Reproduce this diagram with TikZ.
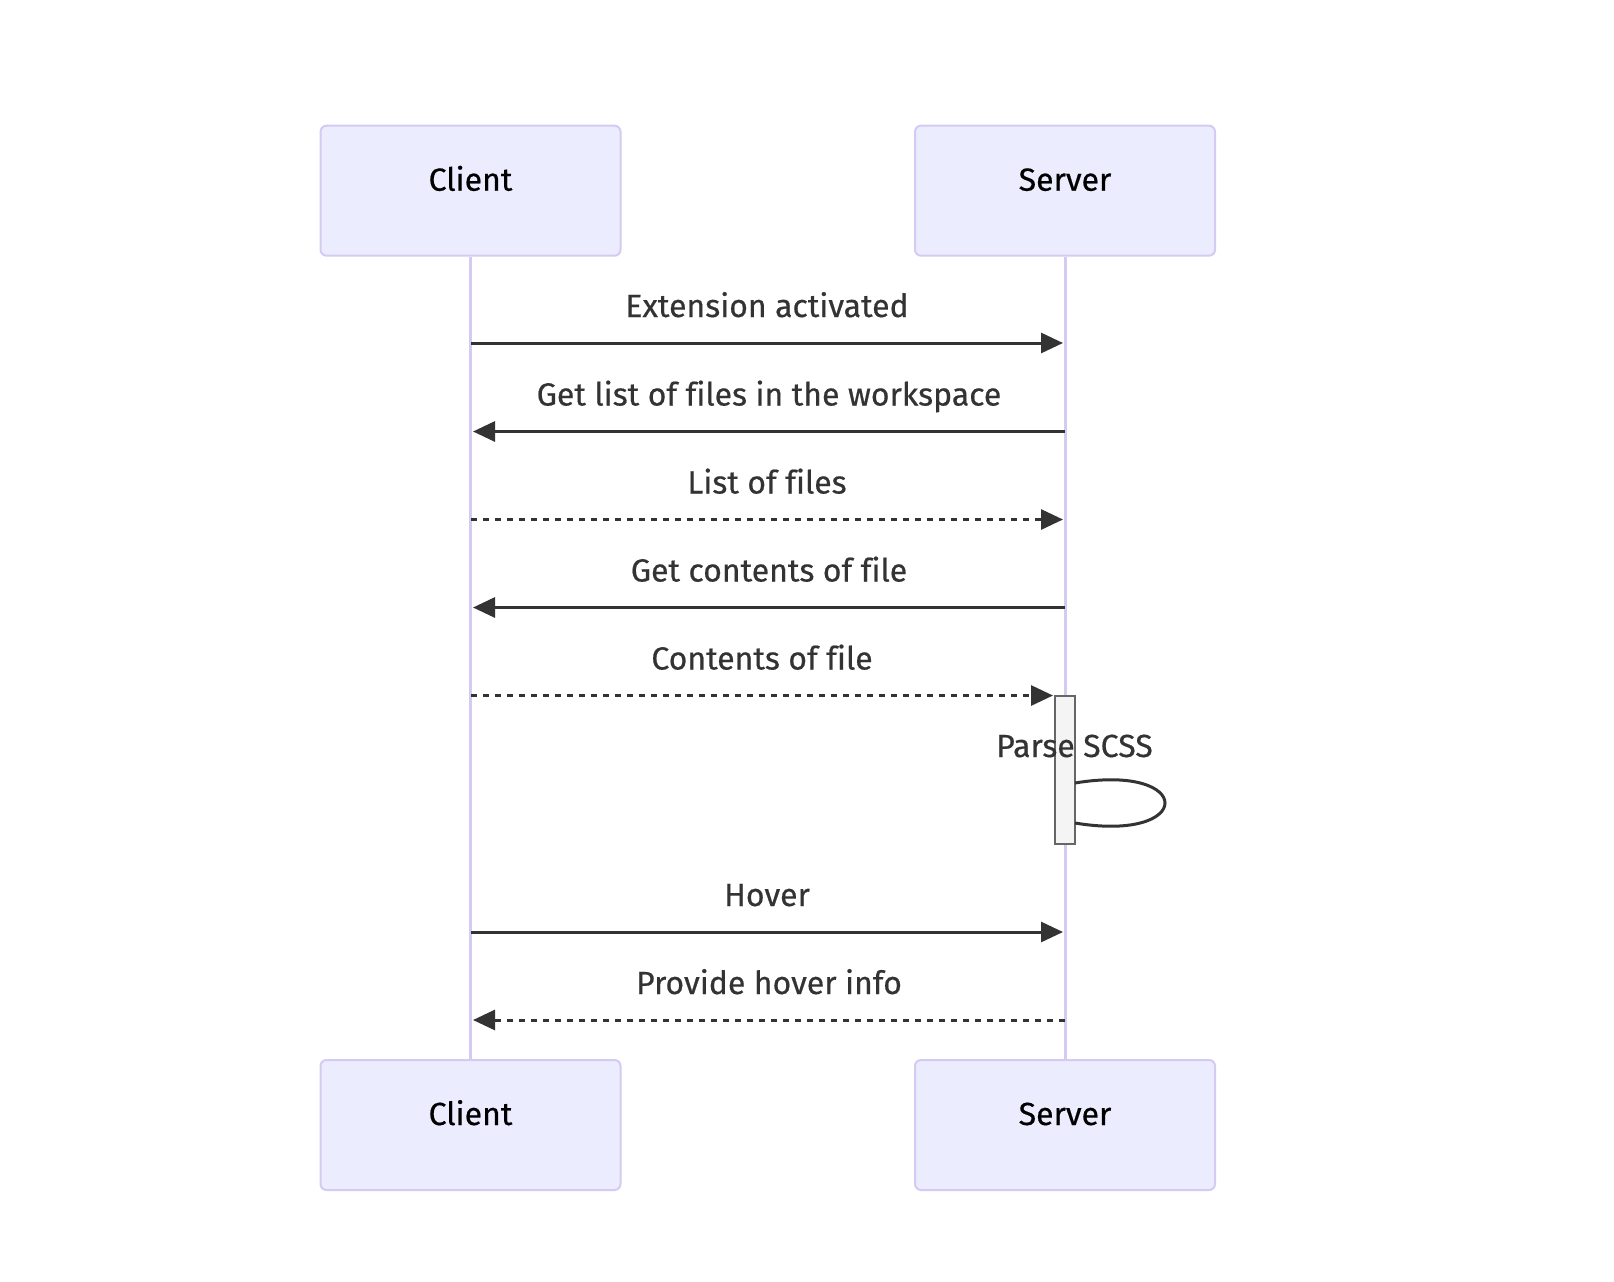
\documentclass[tikz,border=0pt]{standalone}
\usepackage{fontspec}
\setmainfont{Fira Sans}
\newfontfamily\lblfont{Fira Sans}[RawFeature={embolden=0.5}, Ligatures=NoCommon]
\usetikzlibrary{arrows.meta}
\definecolor{actfill}{HTML}{ECECFF}
\definecolor{actline}{RGB}{212,202,242}
\definecolor{msg}{HTML}{333333}
\definecolor{actvfill}{HTML}{F4F4F4}
\definecolor{actvline}{HTML}{666666}
\begin{document}
\begin{tikzpicture}[x=1pt,y=-1pt,
  actor/.style={draw=actline, fill=actfill, line width=2pt, rounded corners=6pt,
    minimum width=300pt, inner sep=0pt, text height=65pt, text depth=65pt,
    font=\lblfont\fontsize{32}{38}\selectfont, text=black},
  life/.style={draw=actline, line width=3pt},
  msgline/.style={draw=msg, line width=3pt, -{Triangle[length=22pt,width=20pt]}},
  reply/.style={msgline, dash pattern=on 6pt off 6pt},
  loopline/.style={draw=msg, line width=3pt},
  lbl/.style={font=\lblfont\fontsize{32}{38}\selectfont, text=msg, anchor=base, inner sep=0pt},
  activation/.style={draw=actvline, fill=actvfill, line width=2pt, minimum width=20pt,
    minimum height=148pt, inner sep=0pt}
]
\useasboundingbox (0,0) rectangle (1614,1282);

% actors
\node[actor] (cT) at (470.5,190.7) {Client};
\node[actor] (sT) at (1065,190.7) {Server};
\node[actor] (cB) at (470.5,1125) {Client};
\node[actor] (sB) at (1065,1125) {Server};

% lifelines
\draw[life] (cT.south) -- (cB.north);
\draw[life] (sT.south) -- (sB.north);

% activation
\node[activation] (act) at (1065,770) {};

% message end points
\coordinate (a1) at (471,343);   \coordinate (b1) at (1063,343);
\coordinate (a2) at (1065,431.5);\coordinate (b2) at (473,431.5);
\coordinate (a3) at (471,519.5); \coordinate (b3) at (1063,519.5);
\coordinate (a4) at (1065,607.5);\coordinate (b4) at (473,607.5);
\coordinate (a5) at (471,695.5); \coordinate (b5) at (1053,695.5);
\coordinate (l1) at (1075,783);  \coordinate (l2) at (1075,823);
\coordinate (a6) at (471,932);   \coordinate (b6) at (1063,932);
\coordinate (a7) at (1065,1020); \coordinate (b7) at (473,1020);

% messages
\draw[msgline] (a1) -- (b1);
\draw[msgline] (a2) -- (b2);
\draw[reply]   (a3) -- (b3);
\draw[msgline] (a4) -- (b4);
\draw[reply]   (a5) -- (b5);
\draw[loopline] (l1) .. controls (1195,763) and (1195,843) .. (l2);
\draw[msgline] (a6) -- (b6);
\draw[reply]   (a7) -- (b7);

% labels
\node[lbl] (t1) at (767,317) {Extension activated};
\node[lbl] (t2) at (769,405.5) {Get list of files in the workspace};
\node[lbl] (t3) at (767,493.5) {List of files};
\node[lbl] (t4) at (769,581.5) {Get contents of file};
\node[lbl] (t5) at (762,669.5) {Contents of file};
\node[lbl] (t6) at (1074.5,757) {Parse SCSS};
\node[lbl] (t7) at (767,906) {Hover};
\node[lbl] (t8) at (769,994) {Provide hover info};
\end{tikzpicture}
\end{document}
